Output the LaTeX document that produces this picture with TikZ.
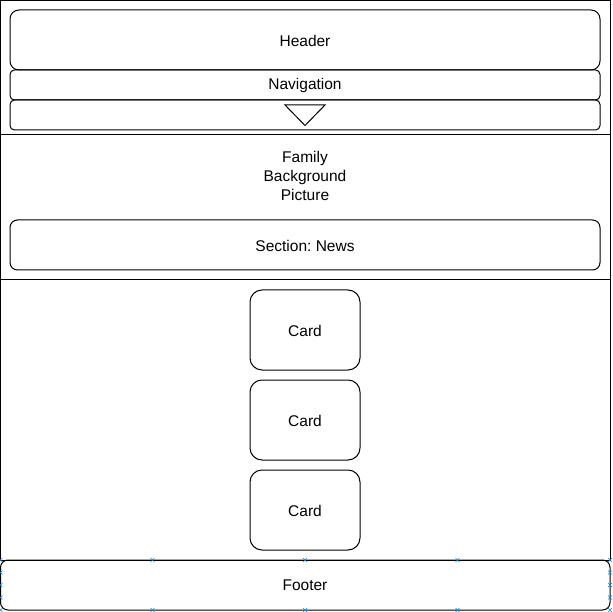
\documentclass[tikz,border=0pt]{standalone}
\usepackage{fontspec}
\setmainfont{Liberation Sans}
\usepackage{tikz}
\frenchspacing
\tikzset{
  block/.style={draw, line width=1pt, rounded corners=#1},
  block/.default=8pt,
  handle/.style={draw=cyan!70!blue, line width=0.6pt}
}
\begin{document}
\begin{tikzpicture}[x=1pt, y=-1pt, font=\fontsize{15.5}{18}\selectfont]
			\useasboundingbox (0,0) rectangle (613,612);
			% Abschnitte
			\draw [line width=1pt] (0.5,0.5) rectangle (610,135);
			\draw [line width=1pt] (0.5,135) rectangle (610,280);
			\draw [line width=1pt] (0.5,280) rectangle (610,560);
			% Kopf
			\draw [block=9pt] (10,10) rectangle (600,70);
			\node (header) at (305,40.5) {Header};
			\draw [block=4.5pt] (10,70) rectangle (600,100);
			\node (nav) at (305,85.5) {Navigation};
			\draw [block=4.5pt] (10,100) rectangle (600,130);
			\draw [line width=1pt] (285,105) -- (325,105) -- (305,125.5) -- cycle;
			% Bild
			\node [align=center, font=\fontsize{15.5}{19}\selectfont] (picture) at (305,175.5) {Family\\Background\\Picture};
			\draw [block=7.5pt] (10,220) rectangle (600,270);
			\node (news) at (305,245.5) {Section: News};
			% Karten
			\foreach \y [count=\i] in {290,380,470}
			{
			\draw [block=12pt] (250,\y) rectangle (360,\y+80);
			\node (card\i) at (305,\y+40.5) {Card};
			}
			% Fuss
			\draw [block=7.5pt] (0.5,560) rectangle (610,610);
			\node (footer) at (305,585.5) {Footer};
			\foreach \x in {0.5,152.5,305,457.5,610}
			{
			\draw [handle] (\x-2,558) -- (\x+2,562) (\x-2,562) -- (\x+2,558);
			\draw [handle] (\x-2,608) -- (\x+2,612) (\x-2,612) -- (\x+2,608);
			}
			\foreach \y in {572.5,585,597.5}
			{
			\draw [handle] (-1.5,\y-2) -- (2.5,\y+2) (-1.5,\y+2) -- (2.5,\y-2);
			\draw [handle] (608,\y-2) -- (612,\y+2) (608,\y+2) -- (612,\y-2);
			}
		\end{tikzpicture}
\end{document}
